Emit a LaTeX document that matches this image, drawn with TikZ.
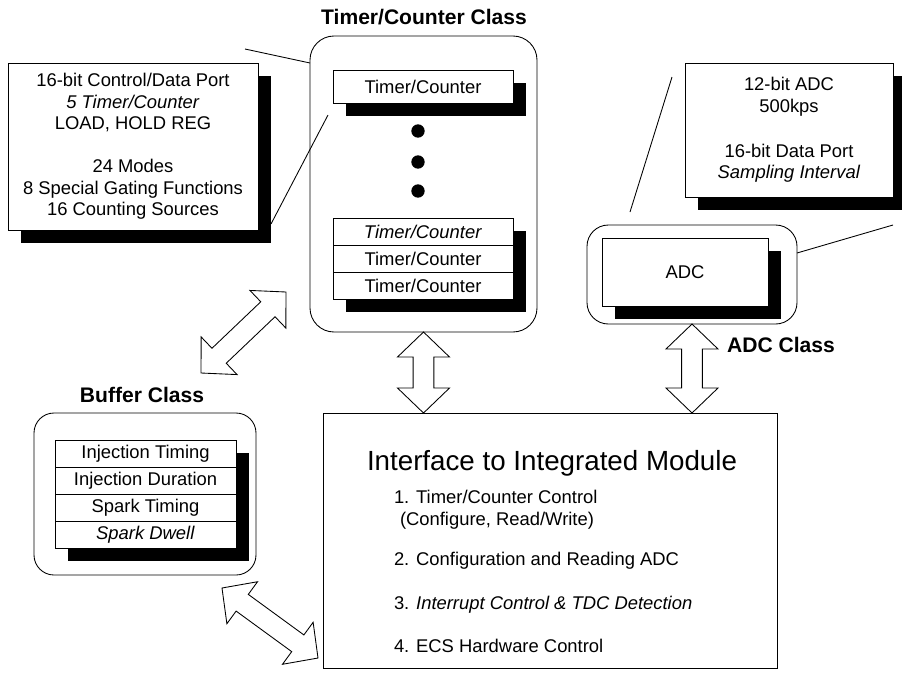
\documentclass[tikz,border=0pt]{standalone}
\usepackage{fontspec}
\setmainfont{Liberation Sans}
\usetikzlibrary{calc,shadows}
\def\arrHL{18.75pt}
\def\arrHW{19.5pt}
\def\arrSW{7.75pt}
\newcommand\dblarrow[2]{%
  \draw[bigarr] (#1)
   -- ($(#1)!\arrHL!(#2)!\arrHW!90:(#2)$)
   -- ($(#1)!\arrHL!(#2)!\arrSW!90:(#2)$)
   -- ($(#2)!\arrHL!(#1)!\arrSW!-90:(#1)$)
   -- ($(#2)!\arrHL!(#1)!\arrHW!-90:(#1)$)
   -- (#2)
   -- ($(#2)!\arrHL!(#1)!\arrHW!90:(#1)$)
   -- ($(#2)!\arrHL!(#1)!\arrSW!90:(#1)$)
   -- ($(#1)!\arrHL!(#2)!\arrSW!-90:(#2)$)
   -- ($(#1)!\arrHL!(#2)!\arrHW!-90:(#2)$)
   -- cycle;}
\begin{document}
\begin{tikzpicture}[x=0.75pt,y=-0.75pt,
  every node/.style={inner sep=0pt, outer sep=0pt},
  lw/.style={line width=0.65pt},
  plainbox/.style={draw, lw, fill=white, rectangle},
  shad/.style={general shadow={fill=black, shadow xshift=9.75pt, shadow yshift=-9.75pt}},
  classbox/.style={draw, lw, rounded corners=15pt, rectangle},
  body/.style={font=\fontsize{13.8}{16.1}\selectfont, align=center},
  ttl/.style={font=\bfseries\fontsize{15.8}{18}\selectfont},
  bigarr/.style={draw, lw, fill=white, line join=miter},
  callout/.style={lw}]
\useasboundingbox (0,0) rectangle (902,672);
\fill[white] (0,0) rectangle (902,672);

% ---- Timer/Counter info box
\node[plainbox, shad, body, minimum width=187.5pt, minimum height=125.25pt] (tcinfo) at (133,146.5)
  {16-bit Control/Data Port\\ \textit{5 Timer/Counter}\\ LOAD, HOLD REG\\[16pt] 24 Modes\\ 8 Special Gating Functions\\ 16 Counting Sources};

% ---- Timer/Counter class
\node[ttl] (tctitle) at (424,17) {Timer/Counter Class};
\node[classbox, rounded corners=18pt, minimum width=170.25pt, minimum height=222pt] (tcclass) at (423.5,184) {};
\node[plainbox, shad, body, minimum width=135pt, minimum height=24.75pt] (tc1) at (423,86.5) {Timer/Counter};
\node[circle, fill=black, minimum size=10pt] (dot1) at (418,131) {};
\node[circle, fill=black, minimum size=10pt] (dot2) at (418,162) {};
\node[circle, fill=black, minimum size=10pt] (dot3) at (418,191) {};
\node[plainbox, shad, minimum width=135pt, minimum height=60.75pt] (tcstack) at (423,258.5) {};
\node[plainbox, body, minimum width=135pt, minimum height=20.25pt] (tcr1) at (423,231.5) {\textit{Timer/Counter}};
\node[plainbox, body, minimum width=135pt, minimum height=20.25pt] (tcr2) at (423,258.5) {Timer/Counter};
\node[plainbox, body, minimum width=135pt, minimum height=20.25pt] (tcr3) at (423,285.5) {Timer/Counter};

% ---- ADC info box
\node[plainbox, shad, body, minimum width=156pt, minimum height=100.5pt] (adcinfo) at (789,130)
  {\fontsize{13.8}{15.4}\selectfont 12-bit ADC\\ 500kps\\[18pt] 16-bit Data Port\\ \textit{Sampling Interval}};

% ---- ADC class
\node[classbox, rounded corners=16pt, minimum width=157.5pt, minimum height=74.25pt] (adcclass) at (692,274.5) {};
\node[plainbox, shad, body, minimum width=124.5pt, minimum height=51pt] (adc) at (685,272) {ADC};
\node[ttl] (adctitle) at (781,345) {ADC Class};

% ---- Buffer class
\node[ttl] (buftitle) at (142,395) {Buffer Class};
\node[classbox, minimum width=166.5pt, minimum height=121.5pt] (bufclass) at (145,494) {};
\node[plainbox, shad, minimum width=135.75pt, minimum height=81pt] (bufstack) at (145.5,494) {};
\node[plainbox, body, minimum width=135.75pt, minimum height=20.25pt] (buf1) at (145.5,453.5) {Injection Timing};
\node[plainbox, body, minimum width=135.75pt, minimum height=20.25pt] (buf2) at (145.5,480.5) {Injection Duration};
\node[plainbox, body, minimum width=135.75pt, minimum height=20.25pt] (buf3) at (145.5,507.5) {Spark Timing};
\node[plainbox, body, minimum width=135.75pt, minimum height=20.25pt] (buf4) at (145.5,534.5) {\textit{Spark Dwell}};

% ---- Interface box
\node[plainbox, minimum width=340.5pt, minimum height=191.25pt] (iface) at (550,540.5) {};
\node[font=\fontsize{20.8}{24}\selectfont] (ifacetitle) at (552,463) {Interface to Integrated Module};
\node[body, anchor=base west] (it1) at (394,503.5) {1. Timer/Counter Control};
\node[body, anchor=base west] (it1b) at (400,525.5) {(Configure, Read/Write)};
\node[body, anchor=base west] (it2) at (394,565.5) {2. Configuration and Reading ADC};
\node[body, anchor=base west] (it3) at (394,609.5) {3. \textit{Interrupt Control \& TDC Detection}};
\node[body, anchor=base west] (it4) at (394,652.5) {4. ECS Hardware Control};

% ---- callout lines
\coordinate (c1a) at (245,49);  \coordinate (c1b) at (310,63);
\coordinate (c2a) at (271,224); \coordinate (c2b) at (328,115);
\coordinate (c3a) at (672,77);  \coordinate (c3b) at (630,212);
\coordinate (c4a) at (893,225); \coordinate (c4b) at (797,253);
\draw[callout] (c1a) -- (c1b);
\draw[callout] (c2a) -- (c2b);
\draw[callout] (c3a) -- (c3b);
\draw[callout] (c4a) -- (c4b);

% ---- double arrows
\coordinate (tcarr) at (iface.north -| tcclass.south);
\coordinate (adcarr) at (iface.north -| adcclass.south);
\coordinate (dA1) at (201,373); \coordinate (dB1) at (286,292);
\coordinate (dA2) at (222,588); \coordinate (dB2) at (318,658);
\dblarrow{tcclass.south}{tcarr}
\dblarrow{adcclass.south}{adcarr}
\dblarrow{dA1}{dB1}
\dblarrow{dA2}{dB2}
\end{tikzpicture}
\end{document}
